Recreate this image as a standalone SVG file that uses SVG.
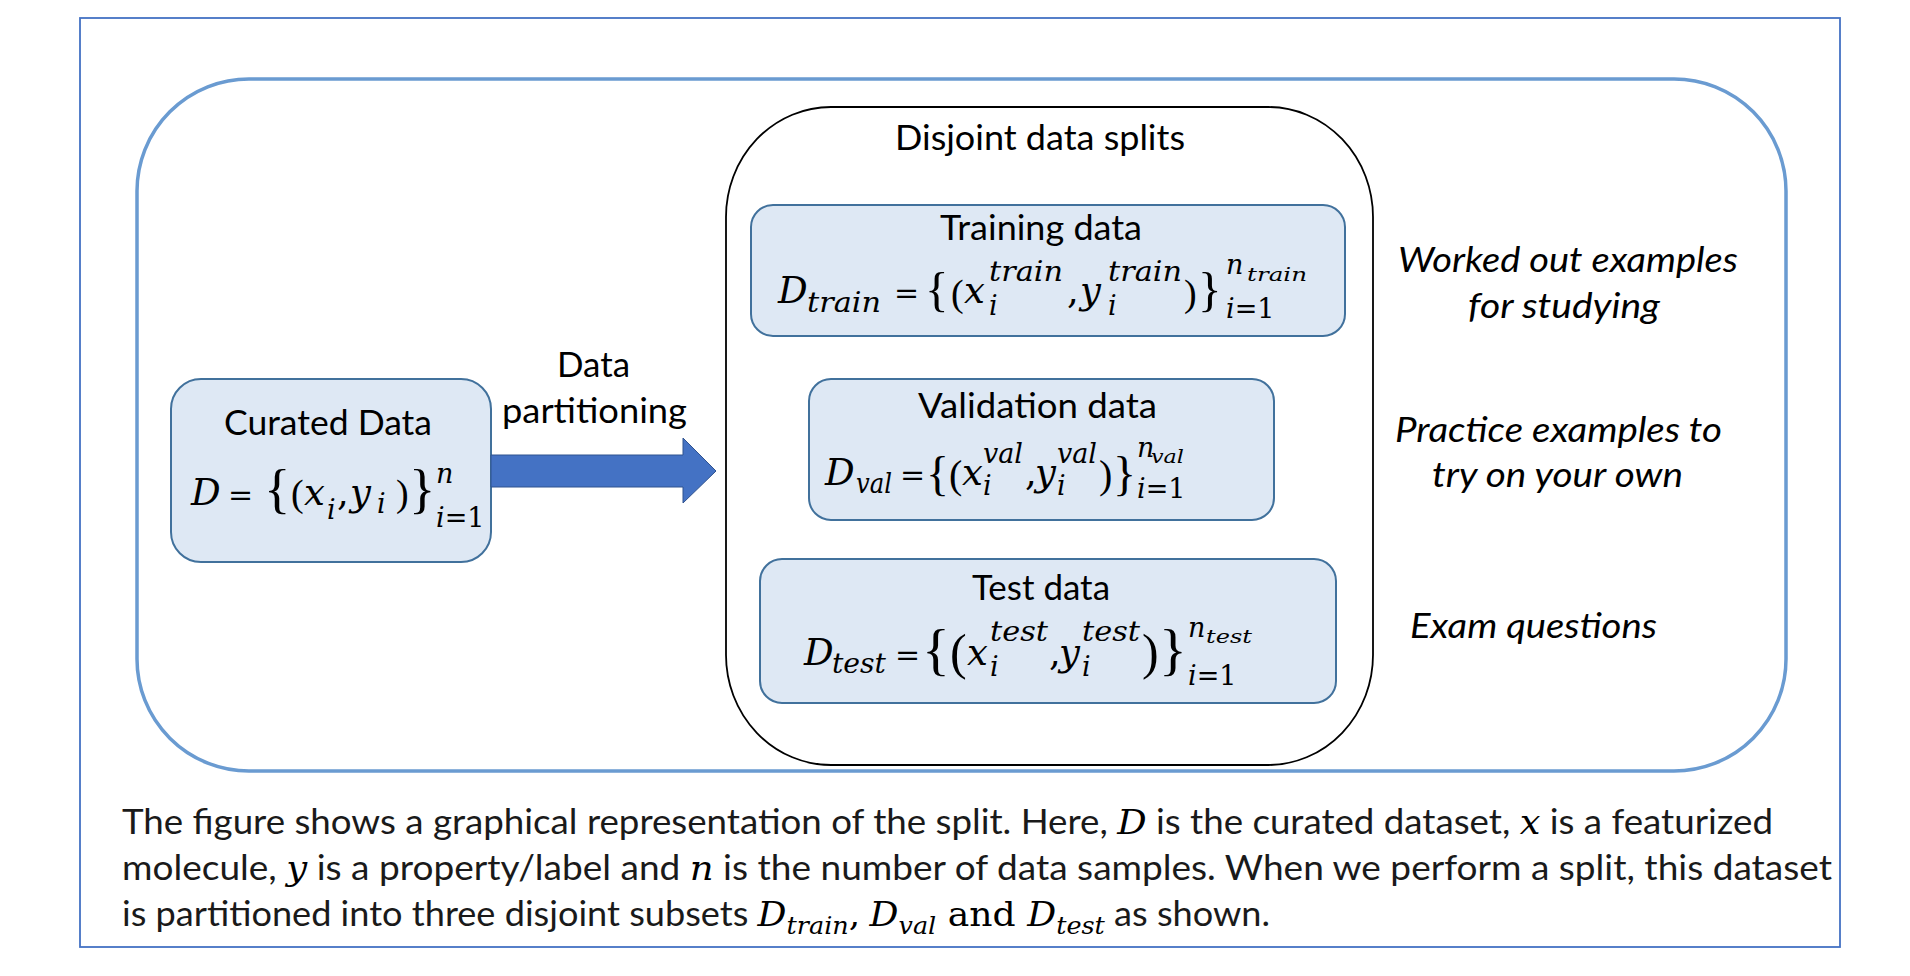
<svg xmlns="http://www.w3.org/2000/svg" width="1910" height="976" viewBox="0 0 1910 976">
<style>
.lbl{font-family:Lato,'Open Sans',sans-serif;font-size:35px;fill:#000}
.note{font-family:Lato,'Open Sans',sans-serif;font-size:35px;font-style:italic;fill:#000}
.cap{font-family:Lato,'Open Sans',sans-serif;font-size:34px;fill:#1a1a1a}
.m{font-family:'DejaVu Serif',serif;fill:#000}
.i{font-style:italic}
.b{font-size:37px}
.eq{font-size:30px}
.s{font-size:27px}
.ss{font-size:19px}
.lb{font-family:'Liberation Serif',serif;font-style:normal}
.node{fill:#DEE8F4;stroke:#41719C;stroke-width:2}
</style>
<rect width="1910" height="976" fill="#fff"/>
<g id="frame">
<rect x="80" y="18" width="1760" height="929" fill="none" stroke="#4472C4" stroke-width="1.8"/>
<rect x="137" y="79" width="1649" height="692" rx="112" ry="112" fill="none" stroke="#6A9BD1" stroke-width="3.5"/>
</g>
<g id="curated">
<rect class="node" x="171" y="379" width="320" height="183" rx="30"/>
<text class="lbl" x="224" y="435" textLength="208" lengthAdjust="spacingAndGlyphs">Curated Data</text>
<text class="m b"><tspan class="i" x="191" y="505">D</tspan><tspan class="eq" x="228" y="505">=</tspan><tspan class="lb" x="264" y="507" style="font-size:55px">{</tspan><tspan class="lb" x="291" y="506" style="font-size:38px">(</tspan><tspan class="i" x="304" y="505">x</tspan><tspan class="i s" x="327" y="519">i</tspan><tspan x="337" y="505">,</tspan><tspan class="i" x="350" y="505">y</tspan><tspan class="i s" x="377" y="513">i</tspan><tspan class="lb" x="396" y="506" style="font-size:38px">)</tspan><tspan class="lb" x="409" y="507" style="font-size:55px">}</tspan><tspan class="i s" x="436" y="483">n</tspan><tspan class="i s" x="436" y="527">i</tspan><tspan class="s">=1</tspan></text>
</g>
<g id="splits">
<rect x="726" y="107" width="647" height="658" rx="105" ry="110" fill="none" stroke="#000" stroke-width="1.8"/>
<text class="lbl" x="895" y="150" textLength="290" lengthAdjust="spacingAndGlyphs">Disjoint data splits</text>
</g>
<g id="train">
<rect class="node" x="751" y="205" width="594" height="131" rx="22"/>
<text class="lbl" x="940" y="240" textLength="202" lengthAdjust="spacingAndGlyphs">Training data</text>
<text class="m b"><tspan class="i" x="778" y="303">D</tspan><tspan class="i s" x="807" y="312" textLength="74" lengthAdjust="spacingAndGlyphs">train</tspan><tspan class="eq" x="894" y="303">=</tspan><tspan class="lb" x="925" y="306" style="font-size:49px">{</tspan><tspan class="lb" x="951" y="306" style="font-size:38px">(</tspan><tspan class="i" x="964" y="303">x</tspan><tspan class="i s" x="989" y="281" textLength="74" lengthAdjust="spacingAndGlyphs">train</tspan><tspan class="i s" x="989" y="315">i</tspan><tspan x="1067" y="303">,</tspan><tspan class="i" x="1080" y="303">y</tspan><tspan class="i s" x="1108" y="281" textLength="74" lengthAdjust="spacingAndGlyphs">train</tspan><tspan class="i s" x="1108" y="315">i</tspan><tspan class="lb" x="1184" y="306" style="font-size:38px">)</tspan><tspan class="lb" x="1198" y="306" style="font-size:49px">}</tspan><tspan class="i s" x="1226" y="274">n</tspan><tspan class="i ss" x="1247" y="281" textLength="60" lengthAdjust="spacingAndGlyphs">train</tspan><tspan class="i s" x="1226" y="318">i</tspan><tspan class="s">=1</tspan></text>
</g>
<g id="val">
<rect class="node" x="809" y="379" width="465" height="141" rx="22"/>
<text class="lbl" x="918" y="418" textLength="239" lengthAdjust="spacingAndGlyphs">Validation data</text>
<text class="m b"><tspan class="i" x="825" y="485">D</tspan><tspan class="i s" x="856" y="493" textLength="36" lengthAdjust="spacingAndGlyphs">val</tspan><tspan class="eq" x="900" y="485">=</tspan><tspan class="lb" x="926" y="490" style="font-size:48px">{</tspan><tspan class="lb" x="949" y="488" style="font-size:40px">(</tspan><tspan class="i" x="962" y="485">x</tspan><tspan class="i s" x="983" y="463" textLength="40" lengthAdjust="spacingAndGlyphs">val</tspan><tspan class="i s" x="983" y="495">i</tspan><tspan x="1025" y="485">,</tspan><tspan class="i" x="1035" y="485">y</tspan><tspan class="i s" x="1057" y="463" textLength="40" lengthAdjust="spacingAndGlyphs">val</tspan><tspan class="i s" x="1057" y="495">i</tspan><tspan class="lb" x="1099" y="488" style="font-size:40px">)</tspan><tspan class="lb" x="1113" y="490" style="font-size:48px">}</tspan><tspan class="i s" x="1137" y="457">n</tspan><tspan class="i ss" x="1151" y="463" textLength="33" lengthAdjust="spacingAndGlyphs">val</tspan><tspan class="i s" x="1137" y="498">i</tspan><tspan class="s">=1</tspan></text>
</g>
<g id="test">
<rect class="node" x="760" y="559" width="576" height="144" rx="22"/>
<text class="lbl" x="972" y="600" textLength="138" lengthAdjust="spacingAndGlyphs">Test data</text>
<text class="m b"><tspan class="i" x="804" y="665">D</tspan><tspan class="i s" x="832" y="673" textLength="54" lengthAdjust="spacingAndGlyphs">test</tspan><tspan class="eq" x="895" y="665">=</tspan><tspan class="lb" x="922" y="669" style="font-size:58px">{</tspan><tspan class="lb" x="950" y="669" style="font-size:50px">(</tspan><tspan class="i" x="967" y="665">x</tspan><tspan class="i s" x="990" y="641" textLength="58" lengthAdjust="spacingAndGlyphs">test</tspan><tspan class="i s" x="990" y="676">i</tspan><tspan x="1049" y="665">,</tspan><tspan class="i" x="1059" y="665">y</tspan><tspan class="i s" x="1082" y="641" textLength="58" lengthAdjust="spacingAndGlyphs">test</tspan><tspan class="i s" x="1082" y="676">i</tspan><tspan class="lb" x="1142" y="669" style="font-size:50px">)</tspan><tspan class="lb" x="1159" y="669" style="font-size:58px">}</tspan><tspan class="i s" x="1188" y="637">n</tspan><tspan class="i ss" x="1206" y="643" textLength="46" lengthAdjust="spacingAndGlyphs">test</tspan><tspan class="i s" x="1188" y="685">i</tspan><tspan class="s">=1</tspan></text>
</g>
<g id="notes">
<text class="note" x="1398" y="272" textLength="340" lengthAdjust="spacingAndGlyphs">Worked out examples</text>
<text class="note" x="1468" y="318" textLength="192" lengthAdjust="spacingAndGlyphs">for studying</text>
<text class="note" x="1395" y="442" textLength="327" lengthAdjust="spacingAndGlyphs">Practice examples to</text>
<text class="note" x="1432" y="487" textLength="251" lengthAdjust="spacingAndGlyphs">try on your own</text>
<text class="note" x="1410" y="638" textLength="247" lengthAdjust="spacingAndGlyphs">Exam questions</text>
</g>
<g id="connectors">
<polygon points="491,455 683,455 683,438 716,471 683,503 683,487 491,487" fill="#4472C4" stroke="#2F528F" stroke-width="1"/>
<text class="lbl" x="557" y="377" textLength="73" lengthAdjust="spacingAndGlyphs">Data</text>
<text class="lbl" x="502" y="423" textLength="185" lengthAdjust="spacingAndGlyphs">partitioning</text>
</g>
<g id="caption">
<text class="cap" x="122" y="834" textLength="1651" lengthAdjust="spacingAndGlyphs">The figure shows a graphical representation of the split. Here, <tspan class="m i">D</tspan> is the curated dataset, <tspan class="m i">x</tspan> is a featurized</text>
<text class="cap" x="122" y="880" textLength="1710" lengthAdjust="spacingAndGlyphs">molecule, <tspan class="m i">y</tspan> is a property/label and <tspan class="m i">n</tspan> is the number of data samples. When we perform a split, this dataset</text>
<text class="cap" x="122" y="926" textLength="1148" lengthAdjust="spacingAndGlyphs">is partitioned into three disjoint subsets <tspan class="m i">D</tspan><tspan class="m i" dy="8" style="font-size:24px">train</tspan><tspan class="m" dy="-8">,</tspan> <tspan class="m i">D</tspan><tspan class="m i" dy="8" style="font-size:24px">val</tspan><tspan class="m" dy="-8"> and </tspan><tspan class="m i">D</tspan><tspan class="m i" dy="8" style="font-size:24px">test</tspan><tspan dy="-8"> as shown.</tspan></text>
</g>
</svg>
